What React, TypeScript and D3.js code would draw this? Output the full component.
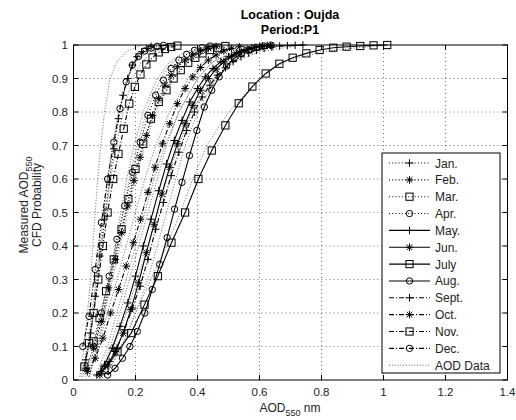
import React from 'react';
import * as d3 from 'd3';

type Pt = [number, number];

// ---------- data ----------
const MONTHS = ['Jan.', 'Feb.', 'Mar.', 'Apr.', 'May.', 'Jun.', 'July', 'Aug.', 'Sept.', 'Oct.', 'Nov.', 'Dec.'];

const janFit: Pt[] = [[0.04, 0.06], [0.055, 0.14], [0.07, 0.25], [0.085, 0.37], [0.1, 0.48], [0.115, 0.59], [0.13, 0.69], [0.145, 0.78], [0.16, 0.85], [0.175, 0.9], [0.19, 0.94], [0.205, 0.965], [0.22, 0.98], [0.235, 0.99], [0.25, 0.996]];
const febFit: Pt[] = [[0.04, 0.035], [0.065, 0.095], [0.09, 0.175], [0.113, 0.275], [0.135, 0.36], [0.155, 0.44], [0.175, 0.52], [0.195, 0.595], [0.215, 0.665], [0.235, 0.73], [0.255, 0.79], [0.275, 0.84], [0.295, 0.88], [0.315, 0.91], [0.335, 0.935], [0.36, 0.955], [0.385, 0.97], [0.41, 0.982], [0.435, 0.99], [0.46, 0.996]];
const marFit: Pt[] = [[0.065, 0.115], [0.084, 0.185], [0.105, 0.265], [0.13, 0.36], [0.155, 0.45], [0.177, 0.54], [0.2, 0.63], [0.225, 0.705], [0.25, 0.78], [0.275, 0.83], [0.3, 0.865], [0.323, 0.9], [0.346, 0.925], [0.37, 0.947], [0.393, 0.962], [0.416, 0.975], [0.44, 0.985], [0.465, 0.992], [0.49, 0.997]];
const aprFit: Pt[] = [[0.065, 0.1], [0.09, 0.2], [0.115, 0.31], [0.14, 0.42], [0.165, 0.52], [0.19, 0.62], [0.215, 0.71], [0.24, 0.79], [0.265, 0.85], [0.29, 0.895], [0.315, 0.93], [0.34, 0.955], [0.365, 0.972], [0.39, 0.984], [0.415, 0.992], [0.44, 0.997]];
const mayFit: Pt[] = [[0.075, 0.015], [0.1, 0.045], [0.125, 0.095], [0.15, 0.16], [0.175, 0.23], [0.2, 0.31], [0.225, 0.4], [0.25, 0.48], [0.275, 0.565], [0.3, 0.645], [0.325, 0.715], [0.35, 0.775], [0.375, 0.83], [0.4, 0.87], [0.425, 0.905], [0.45, 0.93], [0.475, 0.95], [0.5, 0.965], [0.525, 0.977], [0.55, 0.986], [0.575, 0.992], [0.6, 0.996], [0.625, 0.999]];
const junFit: Pt[] = [[0.085, 0.015], [0.11, 0.045], [0.135, 0.085], [0.16, 0.14], [0.185, 0.21], [0.21, 0.29], [0.235, 0.38], [0.26, 0.465], [0.285, 0.555], [0.31, 0.635], [0.335, 0.705], [0.36, 0.765], [0.385, 0.82], [0.41, 0.865], [0.435, 0.9], [0.46, 0.928], [0.485, 0.95], [0.51, 0.966], [0.535, 0.978], [0.56, 0.987], [0.585, 0.993], [0.61, 0.997], [0.635, 0.999]];
const julFit: Pt[] = [[0.1, 0.03], [0.142, 0.085], [0.186, 0.14], [0.229, 0.225], [0.272, 0.31], [0.316, 0.41], [0.36, 0.5], [0.403, 0.6], [0.446, 0.685], [0.49, 0.76], [0.533, 0.826], [0.577, 0.876], [0.62, 0.915], [0.664, 0.944], [0.707, 0.962], [0.751, 0.975], [0.794, 0.985], [0.838, 0.992], [0.881, 0.995], [0.925, 0.997], [0.968, 0.999], [1.012, 1.0]];
const augFit: Pt[] = [[0.11, 0.015], [0.134, 0.035], [0.158, 0.065], [0.182, 0.1], [0.206, 0.145], [0.23, 0.2], [0.254, 0.27], [0.278, 0.345], [0.302, 0.425], [0.326, 0.51], [0.35, 0.59], [0.374, 0.67], [0.398, 0.745], [0.422, 0.815], [0.446, 0.865], [0.47, 0.905], [0.494, 0.937], [0.518, 0.96], [0.542, 0.975], [0.566, 0.986], [0.59, 0.993], [0.614, 0.997], [0.638, 0.999]];
const sepFit: Pt[] = [[0.09, 0.025], [0.115, 0.055], [0.14, 0.095], [0.165, 0.15], [0.19, 0.215], [0.215, 0.28], [0.24, 0.36], [0.265, 0.45], [0.29, 0.53], [0.315, 0.61], [0.34, 0.68], [0.365, 0.745], [0.39, 0.8], [0.415, 0.845], [0.44, 0.88], [0.465, 0.91], [0.49, 0.932], [0.515, 0.95], [0.54, 0.965], [0.565, 0.976], [0.59, 0.984], [0.615, 0.99], [0.64, 0.994], [0.665, 0.997], [0.69, 0.998], [0.715, 0.999], [0.74, 1.0]];
const octFit: Pt[] = [[0.045, 0.025], [0.07, 0.065], [0.095, 0.125], [0.12, 0.2], [0.145, 0.27], [0.17, 0.34], [0.193, 0.41], [0.216, 0.48], [0.24, 0.56], [0.263, 0.635], [0.287, 0.705], [0.31, 0.765], [0.335, 0.825], [0.36, 0.87], [0.385, 0.905], [0.41, 0.933], [0.435, 0.955], [0.46, 0.97], [0.485, 0.982], [0.51, 0.99], [0.535, 0.995]];
const novFit: Pt[] = [[0.035, 0.04], [0.05, 0.11], [0.065, 0.2], [0.08, 0.3], [0.095, 0.4], [0.11, 0.5], [0.128, 0.6], [0.145, 0.675], [0.162, 0.75], [0.18, 0.825], [0.198, 0.875], [0.216, 0.912], [0.235, 0.942], [0.255, 0.963], [0.275, 0.978], [0.295, 0.988], [0.315, 0.994], [0.335, 0.998]];
const decFit: Pt[] = [[0.03, 0.1], [0.05, 0.19], [0.07, 0.33], [0.09, 0.47], [0.11, 0.6], [0.13, 0.71], [0.15, 0.81], [0.17, 0.89], [0.19, 0.94], [0.21, 0.966], [0.23, 0.982], [0.25, 0.991], [0.27, 0.996], [0.29, 0.999]];

// measured AOD data (empirical CDF): AOD value reached at each probability level
const dataLevels = [0.01, 0.1, 0.2, 0.3, 0.4, 0.5, 0.6, 0.7, 0.8, 0.9, 0.95, 0.98, 1.0];
const janData = [0.03, 0.05, 0.065, 0.08, 0.092, 0.105, 0.12, 0.138, 0.16, 0.19, 0.22, 0.26, 0.32];
const febData = [0.04, 0.07, 0.095, 0.118, 0.14, 0.16, 0.18, 0.205, 0.235, 0.28, 0.32, 0.38, 0.5];
const marData = [0.05, 0.075, 0.1, 0.125, 0.15, 0.175, 0.2, 0.23, 0.265, 0.32, 0.37, 0.43, 0.52];
const aprData = [0.05, 0.08, 0.1, 0.118, 0.135, 0.152, 0.172, 0.195, 0.225, 0.27, 0.31, 0.36, 0.45];
const mayData = [0.07, 0.11, 0.14, 0.17, 0.2, 0.23, 0.26, 0.295, 0.34, 0.4, 0.45, 0.52, 0.62];
const junData = [0.08, 0.12, 0.15, 0.18, 0.21, 0.24, 0.27, 0.3, 0.34, 0.4, 0.45, 0.52, 0.65];
const julData = [0.1, 0.16, 0.2, 0.25, 0.3, 0.345, 0.385, 0.43, 0.5, 0.6, 0.68, 0.8, 1.0];
const augData = [0.1, 0.155, 0.2, 0.24, 0.27, 0.3, 0.33, 0.36, 0.4, 0.46, 0.51, 0.56, 0.64];
const sepData = [0.08, 0.13, 0.17, 0.205, 0.24, 0.27, 0.3, 0.34, 0.38, 0.45, 0.52, 0.6, 0.74];
const octData = [0.05, 0.08, 0.11, 0.14, 0.17, 0.2, 0.23, 0.265, 0.31, 0.37, 0.42, 0.48, 0.56];
const novData = [0.025, 0.045, 0.06, 0.072, 0.085, 0.098, 0.11, 0.125, 0.145, 0.175, 0.2, 0.24, 0.3];
const decData = [0.02, 0.035, 0.045, 0.055, 0.062, 0.07, 0.078, 0.088, 0.1, 0.118, 0.14, 0.17, 0.22];

const xTickValues = [0, 0.2, 0.4, 0.6, 0.8, 1, 1.2, 1.4];
const xTickLabels = ['0', '0.2', '0.4', '0.6', '0.8', '1', '1.2', '1.4'];
const yTickValues = [0, 0.1, 0.2, 0.3, 0.4, 0.5, 0.6, 0.7, 0.8, 0.9, 1];
const yTickLabels = ['0', '0.1', '0.2', '0.3', '0.4', '0.5', '0.6', '0.7', '0.8', '0.9', '1'];

const fits = [janFit, febFit, marFit, aprFit, mayFit, junFit, julFit, augFit, sepFit, octFit, novFit, decFit];
const datas = [janData, febData, marData, aprData, mayData, junData, julData, augData, sepData, octData, novData, decData];

// ---------- styles ----------
const markerTypes = ['plus', 'star', 'square', 'circle'];
const DOT = '1,2.2';
const DASHDOT = '5,2,1,2';
const styleOf = (i: number) => (i < 4 ? DOT : i < 8 ? undefined : DASHDOT);

const L = 73.5, R = 507.5, T = 45, B = 380;
const FONT = '"Liberation Sans", Arial, Helvetica, sans-serif';

function Marker({ type, x, y }: { type: string; x: number; y: number }) {
  const s = { fill: 'none', stroke: '#000', strokeWidth: 1 };
  if (type === 'plus') return <path d={`M${x - 3.8},${y}h7.6M${x},${y - 3.8}v7.6`} {...s} />;
  if (type === 'star')
    return <path d={`M${x - 3.8},${y}h7.6M${x},${y - 3.8}v7.6M${x - 2.8},${y - 2.8}l5.6,5.6M${x - 2.8},${y + 2.8}l5.6,-5.6`} {...s} />;
  if (type === 'square') return <rect x={x - 3.6} y={y - 3.6} width={7.2} height={7.2} {...s} />;
  return <circle cx={x} cy={y} r={3.2} {...s} />;
}

export default function App() {
  const x = d3.scaleLinear().domain([0, 1.4]).range([L, R]);
  const y = d3.scaleLinear().domain([0, 1]).range([B, T]);
  const line = d3.line<Pt>().x((d) => x(d[0])).y((d) => y(d[1]));

  const legX = 382, legY = 153, legW = 118, legH = 220;
  const rowH = 16.85;

  return (
    <svg width={516} height={420} style={{ position: 'absolute', left: 0, top: 0, background: '#fff' }} fontFamily={FONT}>
      <rect x={0} y={0} width={516} height={420} fill="#fff" />
      {/* grid */}
      {xTickValues.slice(1, -1).map((v) => (
        <line key={'gx' + v} x1={x(v)} x2={x(v)} y1={T} y2={B} stroke="#333" strokeWidth={0.7} strokeDasharray="1,3" />
      ))}
      {yTickValues.slice(1, -1).map((v) => (
        <line key={'gy' + v} x1={L} x2={R} y1={y(v)} y2={y(v)} stroke="#333" strokeWidth={0.7} strokeDasharray="1,3" />
      ))}
      {/* measured data */}
      {datas.map((arr, i) => (
        <path key={'d' + i} d={line(arr.map((v, k) => [v, dataLevels[k]] as Pt)) || ''} fill="none" stroke="#444" strokeWidth={0.8} strokeDasharray="1,1.8" />
      ))}
      {/* fits */}
      {fits.map((arr, i) => (
        <path key={'f' + i} d={line(arr) || ''} fill="none" stroke="#000" strokeWidth={1.1} strokeDasharray={styleOf(i)} />
      ))}
      {fits.map((arr, i) =>
        arr.map((p, k) => <Marker key={`m${i}-${k}`} type={markerTypes[i % 4]} x={x(p[0])} y={y(p[1])} />)
      )}
      {/* axes box */}
      <rect x={L} y={T} width={R - L} height={B - T} fill="none" stroke="#000" strokeWidth={1} />
      {xTickValues.map((v) => (
        <g key={'xt' + v}>
          <line x1={x(v)} x2={x(v)} y1={B} y2={B - 5} stroke="#000" />
          <line x1={x(v)} x2={x(v)} y1={T} y2={T + 5} stroke="#000" />
        </g>
      ))}
      {yTickValues.map((v) => (
        <g key={'yt' + v}>
          <line x1={L} x2={L + 5} y1={y(v)} y2={y(v)} stroke="#000" />
          <line x1={R} x2={R - 5} y1={y(v)} y2={y(v)} stroke="#000" />
        </g>
      ))}
      {xTickValues.map((v, i) => (
        <text key={'xl' + v} x={x(v)} y={396} textAnchor="middle" fontSize={11.5} fill="#222">{xTickLabels[i]}</text>
      ))}
      {yTickValues.map((v, i) => (
        <text key={'yl' + v} x={68} y={y(v) + 4} textAnchor="end" fontSize={11.5} fill="#222">{yTickLabels[i]}</text>
      ))}
      {/* titles */}
      <text x={290} y={19} textAnchor="middle" fontSize={12.5} fontWeight="bold" fill="#000">Location : Oujda</text>
      <text x={290} y={34} textAnchor="middle" fontSize={12.5} fontWeight="bold" fill="#000">Period:P1</text>
      <text x={290} y={412} textAnchor="middle" fontSize={12} fill="#222">
        AOD<tspan dy={4} fontSize={9}>550</tspan><tspan dy={-4}> nm</tspan>
      </text>
      <text transform={`translate(28,205) rotate(-90)`} textAnchor="middle" fontSize={12} fill="#222">
        Measured AOD<tspan dy={4} fontSize={9}>550</tspan>
      </text>
      <text transform={`translate(41,205) rotate(-90)`} textAnchor="middle" fontSize={12} fill="#222">CFD Probability</text>
      {/* legend */}
      <rect x={legX} y={legY} width={legW} height={legH} fill="#fff" stroke="#000" strokeWidth={1} />
      {MONTHS.map((m, i) => {
        const yy = legY + 10 + i * rowH;
        return (
          <g key={'lg' + i}>
            <line x1={389} x2={430} y1={yy} y2={yy} stroke="#000" strokeWidth={1.1} strokeDasharray={styleOf(i)} />
            <Marker type={markerTypes[i % 4]} x={409.5} y={yy} />
            <text x={435} y={yy + 4.5} fontSize={12} fill="#222">{m}</text>
          </g>
        );
      })}
      <line x1={389} x2={430} y1={legY + 10 + 12 * rowH} y2={legY + 10 + 12 * rowH} stroke="#444" strokeWidth={0.8} strokeDasharray="1,1.8" />
      <text x={435} y={legY + 10 + 12 * rowH + 4.5} fontSize={12} fill="#222">AOD Data</text>
    </svg>
  );
}
